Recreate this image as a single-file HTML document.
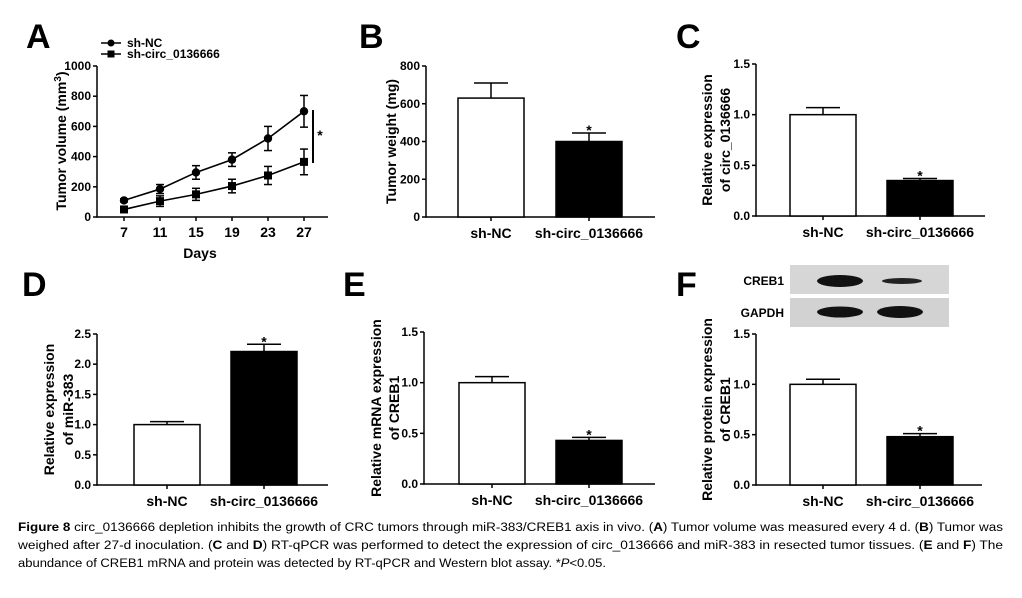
<!DOCTYPE html>
<html><head><meta charset="utf-8">
<style>
body{margin:0;background:#fff;}
svg{display:block;font-family:"Liberation Sans",Arial,sans-serif;}
.t{font-size:12px;font-weight:bold;}
.c{font-size:14px;font-weight:bold;}
.L{font-size:34px;font-weight:bold;}
.cap{font-family:"Liberation Sans Narrow","Liberation Sans",sans-serif;font-size:11.5px;}
</style></head><body>
<svg id="fig" width="1022" height="598" viewBox="0 0 1022 598">
<g id="root"></g>
<g>
<rect x="790" y="265" width="159" height="29" fill="#d6d6d6"/>
<rect x="790" y="298" width="159" height="29" fill="#d2d2d2"/>
<ellipse cx="840" cy="281" rx="23" ry="6" fill="#111"/>
<ellipse cx="902" cy="281" rx="20" ry="3" fill="#222"/>
<ellipse cx="840" cy="312" rx="23" ry="5.5" fill="#111"/>
<ellipse cx="900" cy="312" rx="23" ry="6" fill="#111"/>
<text x="784" y="285" text-anchor="end" class="t">CREB1</text>
<text x="784" y="317" text-anchor="end" class="t">GAPDH</text>
</g>
<g class="cap">
<text x="18" y="531" textLength="985" lengthAdjust="spacingAndGlyphs"><tspan font-weight="bold">Figure 8</tspan> circ_0136666 depletion inhibits the growth of CRC tumors through miR-383/CREB1 axis in vivo. (<tspan font-weight="bold">A</tspan>) Tumor volume was measured every 4 d. (<tspan font-weight="bold">B</tspan>) Tumor was</text>
<text x="18" y="549" textLength="985" lengthAdjust="spacingAndGlyphs">weighed after 27-d inoculation. (<tspan font-weight="bold">C</tspan> and <tspan font-weight="bold">D</tspan>) RT-qPCR was performed to detect the expression of circ_0136666 and miR-383 in resected tumor tissues. (<tspan font-weight="bold">E</tspan> and <tspan font-weight="bold">F</tspan>) The</text>
<text x="18" y="567" textLength="588" lengthAdjust="spacingAndGlyphs">abundance of CREB1 mRNA and protein was detected by RT-qPCR and Western blot assay. *<tspan font-style="italic">P</tspan>&lt;0.05.</text>
</g>
</svg>
<script>
// Panel A data
const daysA = [7, 11, 15, 19, 23, 27];
const ncVol = [110, 185, 295, 380, 520, 700];
const ncErr = [10, 30, 45, 45, 80, 105];
const kdVol = [50, 105, 150, 205, 275, 365];
const kdErr = [8, 35, 40, 45, 60, 85];
const ticksA = [0, 200, 400, 600, 800, 1000];
// Bar panels data
const groups = ["sh-NC", "sh-circ_0136666"];
const valB = [630, 400], errB = [80, 45], ticksB = [0, 200, 400, 600, 800];
const valC = [1.0, 0.35], errC = [0.07, 0.02], ticksC = ["0.0", "0.5", "1.0", "1.5"];
const valD = [1.0, 2.21], errD = [0.05, 0.12], ticksD = ["0.0", "0.5", "1.0", "1.5", "2.0", "2.5"];
const valE = [1.0, 0.43], errE = [0.06, 0.03], ticksE = ["0.0", "0.5", "1.0", "1.5"];
const valF = [1.0, 0.48], errF = [0.05, 0.03], ticksF = ["0.0", "0.5", "1.0", "1.5"];

const NS = "http://www.w3.org/2000/svg";
const root = document.getElementById("root");
function el(tag, attrs, parent, txt) {
  const e = document.createElementNS(NS, tag);
  for (const k in attrs) e.setAttribute(k, attrs[k]);
  if (txt !== undefined) e.textContent = txt;
  (parent || root).appendChild(e);
  return e;
}
function line(x1, y1, x2, y2, p, w) { return el("line", {x1, y1, x2, y2, stroke: "#000", "stroke-width": w || 1.5}, p); }

function yAxis(g, ax, y0, y1, ticks, max) {
  const ys = v => y0 - (v / max) * (y0 - y1);
  line(ax, y0 + 0.75, ax, y1, g);
  ticks.forEach(t => {
    const v = +t, y = ys(v);
    line(ax - 4, y, ax, y, g);
    const tx = el("text", {x: ax - 6, y: y + 4, "text-anchor": "end", class: "t"}, g, String(t));
    
    
  });
  return ys;
}

function barPanel(cfg) {
  const g = el("g", {});
  
  
  const lt = el("text", {x: cfg.lx, y: cfg.ly, class: "L"}, g, cfg.letter);
  
  
  const ys = yAxis(g, cfg.ax, cfg.y0, cfg.y1, cfg.ticks, cfg.max);
  line(cfg.ax, cfg.y0, cfg.end, cfg.y0, g);
  cfg.vals.forEach((v, i) => {
    const bx = cfg.bx[i], bw = cfg.bw, cx = bx + bw / 2, top = ys(v), et = ys(v + cfg.errs[i]);
    line(cx, top, cx, et, g);
    line(cx - 17, et, cx + 17, et, g);
    const r = el("rect", {x: bx, y: top, width: bw, height: cfg.y0 - top, fill: i ? "#000" : "#fff", stroke: "#000", "stroke-width": 1.5}, g);
    
    
    line(cx, cfg.y0, cx, cfg.y0 + 4, g);
    const lb = el("text", {x: cx, y: cfg.y0 + 21, "text-anchor": "middle", class: "c"}, g, groups[i]);
    
    
    if (i === 1) {
      const s = el("text", {x: cx, y: et + 9, "text-anchor": "middle", class: "c", "font-size": "16"}, g, "*");
      s.setAttribute('dy', '-7');
      
      
    }
  });
  cfg.title.forEach((tl, k) => {
    const x = cfg.tx[k], y = (cfg.y0 + cfg.y1) / 2;
    const tt = el("text", {x, y, transform: `rotate(-90 ${x} ${y})`, "text-anchor": "middle", class: "c"}, g, tl);
    
    
  });
}

// Panel A
(function () {
  const g = el("g", {});
  
  
  const lt = el("text", {x: 26, y: 48, class: "L"}, g, "A");
  
  
  const ax = 97, y0 = 217, y1 = 66;
  const ys = yAxis(g, ax, y0, y1, ticksA, 1000);
  const xs = d => 124 + (d - 7) * (304 - 124) / 20;
  line(ax, y0, 328, y0, g);
  daysA.forEach(d => {
    line(xs(d), y0, xs(d), y0 + 4, g);
    const t = el("text", {x: xs(d), y: y0 + 20, "text-anchor": "middle", class: "c"}, g, d);
    
    
  });
  const xt = el("text", {x: 200, y: 258, "text-anchor": "middle", class: "c"}, g, "Days");
  
  
  const yt = el("text", {x: 66, y: 141, transform: "rotate(-90 66 141)", "text-anchor": "middle", class: "c"}, g);
  
  
  yt.innerHTML = 'Tumor volume (mm<tspan dy="-5" font-size="10">3</tspan><tspan dy="5">)</tspan>';
  [[ncVol, ncErr, "circle", "sh-NC"], [kdVol, kdErr, "square", "sh-circ_0136666"]].forEach(([vals, errs, shape, nm]) => {
    const pts = vals.map((v, i) => [xs(daysA[i]), ys(v)]);
    const pl = el("polyline", {points: pts.map(p => p.join(",")).join(" "), fill: "none", stroke: "#000", "stroke-width": 1.6}, g);
    
    
    vals.forEach((v, i) => {
      const x = pts[i][0], a = ys(v + errs[i]), b = ys(v - errs[i]);
      line(x, a, x, b, g); line(x - 4, a, x + 4, a, g); line(x - 4, b, x + 4, b, g);
      const m = shape === "circle" ? el("circle", {cx: x, cy: pts[i][1], r: 4.2, fill: "#000"}, g)
        : el("rect", {x: x - 4, y: pts[i][1] - 4, width: 8, height: 8, fill: "#000"}, g);
      
      
    });
  });
  line(313, 110, 313, 163, g, 2);
  const st = el("text", {x: 320, y: 140, "text-anchor": "middle", class: "c", "font-size": "16"}, g, "*");
  
  
  // legend
  [["sh-NC", 43, "circle"], ["sh-circ_0136666", 54, "square"]].forEach(([nm, y, sh]) => {
    line(101, y, 121, y, g, 1.6);
    const m = sh === "circle" ? el("circle", {cx: 111, cy: y, r: 3.5, fill: "#000"}, g) : el("rect", {x: 107.5, y: y - 3.5, width: 7, height: 7, fill: "#000"}, g);
    
    
    const t = el("text", {x: 127, y: y + 4, class: "t", "font-size": "12.5"}, g, nm);
    
    
  });
})();

barPanel({name: "panel-b-tumor-weight", letter: "B", lx: 359, ly: 48, ax: 426, y0: 217, y1: 66, end: 655, max: 800, ticks: ticksB, vals: valB, errs: errB, bx: [458, 556], bw: 66, title: ["Tumor weight (mg)"], tx: [396]});
barPanel({name: "panel-c-circ-expression", letter: "C", lx: 676, ly: 48, ax: 756, y0: 216, y1: 64, end: 985, max: 1.5, ticks: ticksC, vals: valC, errs: errC, bx: [790, 887], bw: 66, title: ["Relative expression", "of circ_0136666"], tx: [712, 730]});
barPanel({name: "panel-d-mir383-expression", letter: "D", lx: 22, ly: 296, ax: 97, y0: 485, y1: 334, end: 328, max: 2.5, ticks: ticksD, vals: valD, errs: errD, bx: [134, 231], bw: 66, title: ["Relative expression", "of miR-383"], tx: [54, 73]});
barPanel({name: "panel-e-creb1-mrna", letter: "E", lx: 343, ly: 296, ax: 424, y0: 484, y1: 332, end: 655, max: 1.5, ticks: ticksE, vals: valE, errs: errE, bx: [459, 556], bw: 66, title: ["Relative mRNA expression", "of CREB1"], tx: [381, 399]});
barPanel({name: "panel-f-creb1-protein", letter: "F", lx: 676, ly: 296, ax: 756, y0: 485, y1: 334, end: 982, max: 1.5, ticks: ticksF, vals: valF, errs: errF, bx: [790, 887], bw: 66, title: ["Relative protein expression", "of CREB1"], tx: [712, 730]});
</script>
</body></html>
